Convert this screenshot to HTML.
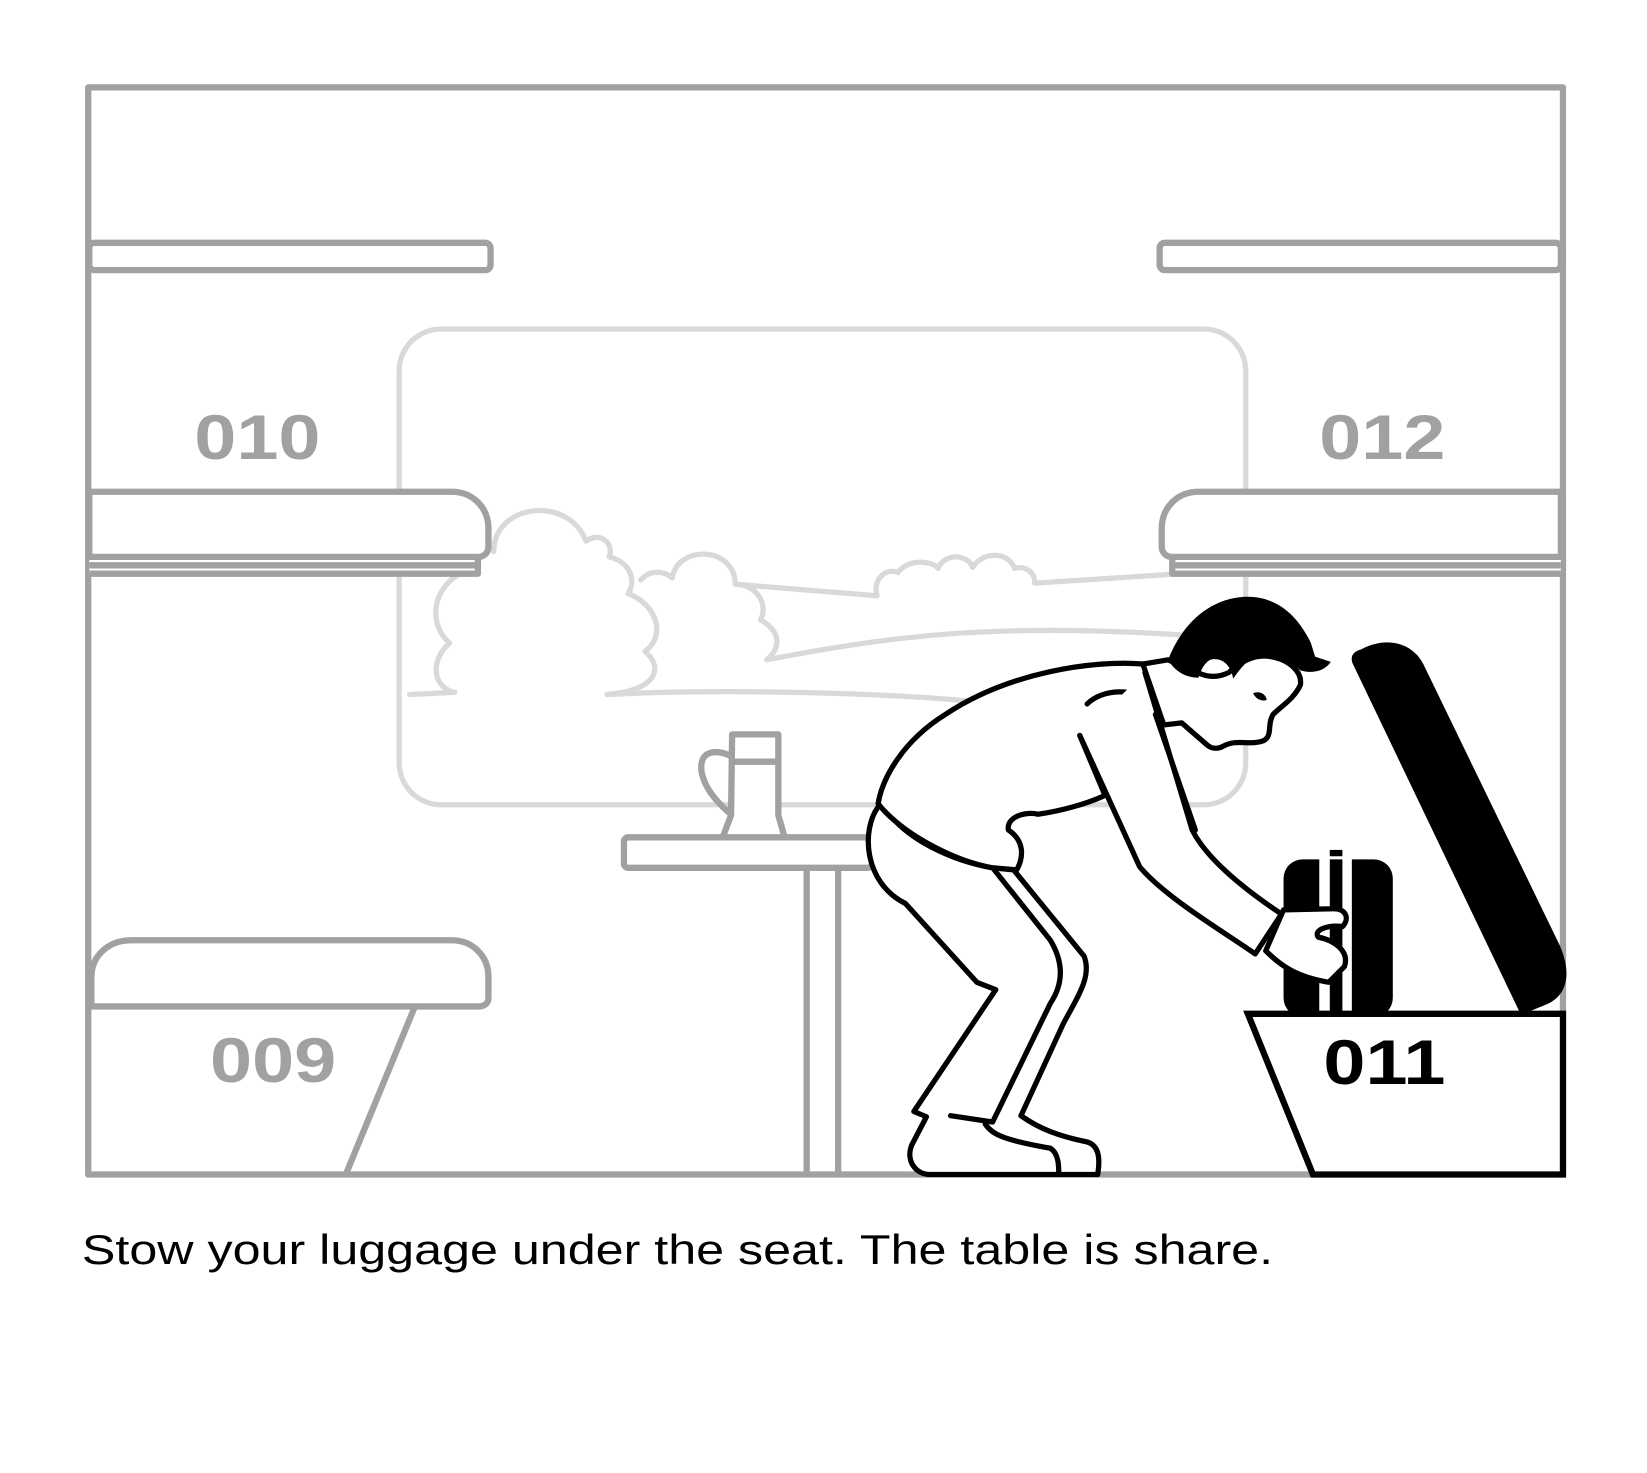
<!DOCTYPE html>
<html><head><meta charset="utf-8"><style>html,body{margin:0;padding:0;background:#fff}svg{display:block}</style></head>
<body>
<svg width="1647" height="1473" viewBox="0 0 1568 1402" xmlns="http://www.w3.org/2000/svg">
<rect width="1568" height="1402" fill="#fff"/>
<g fill="none" stroke="#d8d9da" stroke-width="5" stroke-linecap="round" stroke-linejoin="round">
<rect x="380" y="313" width="806" height="453" rx="40"/>
<path d="M390,661 L433,659 C413,655 408,630 428,612 C408,595 410,560 440,545"/>
<path d="M470,525 C470,480 540,470 558,515 C572,505 585,518 580,530 C600,535 606,552 598,565 C625,575 635,605 614,620 C632,635 626,657 578,661"/>
<path d="M610,552 C620,541 633,544 640,550 C645,518 700,520 700,556 C720,556 732,575 724,590 C742,600 745,615 730,628"/>
<path d="M578,661 C700,655 850,660 930,668"/>
<path d="M730,628 C850,605 950,592 1135,605"/>
<path d="M700,556 L835,567 C830,550 845,540 855,545 C865,530 890,535 893,541 C900,525 922,528 926,540 C936,524 960,525 966,541 C976,538 986,545 985,555 L1140,545"/>
</g>
<g fill="#fff" stroke="#a0a1a3" stroke-width="6" stroke-linejoin="round">
<rect x="84" y="83" width="1404" height="1035" fill="none"/>
<rect x="85" y="231" width="382" height="26" rx="5"/>
<rect x="1104" y="231" width="382" height="26" rx="5"/>
<path d="M85,530 L455,530 L455,546 L85,546"/>
<path d="M85,538 L455,538" fill="none"/>
<path d="M85,468 L430,468 C450,468 465,483 465,503 L465,520 C465,526 461,530 455,530 L85,530 Z"/>
<path d="M1486,530 L1116,530 L1116,546 L1486,546"/>
<path d="M1486,538 L1116,538" fill="none"/>
<path d="M1486,468 L1141,468 C1121,468 1106,483 1106,503 L1106,520 C1106,526 1110,530 1116,530 L1486,530 Z"/>
<path d="M87,958 L87,930 C87,910 103,895 125,895 L430,895 C450,895 465,910 465,930 L465,950 C465,955 461,958 456,958 Z"/>
<path d="M395,958 L330,1116" fill="none"/>
<rect x="594" y="797" width="236" height="29" rx="4"/>
<path d="M768,826 L768,1116 M798,826 L798,1116" fill="none"/>
<path d="M697,699 L741,699 L741,776 L747,797 L688,797 L696,776 Z"/>
<path d="M697,725 L741,725" fill="none"/>
<path d="M697,720 C680,712 665,715 668,735 C672,755 690,770 697,776" fill="none"/>
</g>
<g font-family="Liberation Sans, sans-serif" font-weight="bold" font-size="60" fill="#a0a1a3" text-anchor="middle">
<text transform="translate(245,437) scale(1.2,1)">010</text>
<text transform="translate(1316,437) scale(1.2,1)">012</text>
<text transform="translate(260,1030) scale(1.2,1)">009</text>
</g>
<path d="M1296,618 C1320,605 1345,612 1355,632 L1485,900 C1498,930 1490,950 1470,957 L1448,966 L1288,632 C1285,625 1288,620 1296,618 Z" fill="#000"/>
<rect x="1222" y="818" width="104" height="150" rx="18" fill="#000"/>
<rect x="1256" y="812" width="10" height="156" fill="#fff"/>
<rect x="1278" y="812" width="9" height="156" fill="#fff"/>
<path d="M1266,812 L1278,812" stroke="#000" stroke-width="6"/>
<path d="M1188,965 L1488,965 L1488,1118 L1250,1118 Z" fill="#fff" stroke="#000" stroke-width="6" stroke-linejoin="miter"/>
<text transform="translate(1318,1032) scale(1.2,1)" text-anchor="middle" font-family="Liberation Sans, sans-serif" font-weight="bold" font-size="60" fill="#000">011</text>
<g fill="#fff" stroke="#000" stroke-width="5" stroke-linejoin="round" stroke-linecap="round">
<path d="M836,768 C820,790 822,840 862,860 L930,935 L948,942 L870,1058 L882,1063 L868,1090 C862,1105 872,1118 885,1118 L1045,1118 C1048,1100 1045,1090 1035,1087 C1010,1082 990,1075 972,1062 L1012,975 C1025,950 1040,930 1032,910 L965,828 L945,826 C910,820 860,800 840,765 Z"/>
<path d="M945,826 L1000,895 C1015,920 1010,940 1000,955 L945,1068 L905,1062" fill="none"/>
<path d="M938,1070 C945,1080 955,1085 1000,1093 C1008,1098 1008,1110 1008,1118" fill="none"/>
<path d="M1088,632 C1040,628 960,640 900,680 C860,705 840,740 836,765 C860,795 910,820 945,826 L968,828 C975,815 975,800 960,790 C958,778 975,772 988,775 C1010,772 1035,765 1052,757 L1028,700"/>
<path d="M1035,670 C1050,655 1080,655 1095,668" fill="none"/>
<path d="M1090,640 L1135,790 C1150,820 1190,850 1220,870 L1195,908 C1170,890 1110,855 1085,825 L1028,700" />
<path d="M1100,680 L1138,790" fill="none"/>
<path d="M1205,905 C1220,920 1235,930 1265,935 L1280,920 C1285,905 1270,895 1255,892 C1250,885 1265,880 1278,882 C1285,875 1282,865 1270,865 L1222,866 Z"/>
<path d="M1088,632 L1112,628 L1140,640 C1150,645 1160,645 1170,640 C1180,630 1195,622 1210,625 C1228,628 1240,640 1238,652 C1232,665 1220,672 1212,680 C1206,690 1212,700 1203,705 C1190,710 1178,703 1165,710 C1158,714 1152,712 1148,708 L1125,688 L1108,690 Z"/>
</g>
<path d="M1112,628 C1125,595 1150,570 1185,568 C1215,567 1235,585 1248,612 L1252,625 L1267,630 C1260,640 1248,641 1238,638 C1225,625 1210,620 1195,625 C1185,630 1180,638 1174,646 C1172,632 1162,625 1152,628 C1145,632 1143,640 1141,645 C1128,645 1118,638 1112,628 Z" fill="#000"/>
<path d="M1193,660 C1198,657 1205,660 1206,666 C1202,668 1196,666 1193,660 Z" fill="#000"/>
<text x="78" y="1203" font-family="Liberation Sans, sans-serif" font-size="40" fill="#000" textLength="1134" lengthAdjust="spacingAndGlyphs">Stow your luggage under the seat. The table is share.</text>
</svg>
</body></html>
